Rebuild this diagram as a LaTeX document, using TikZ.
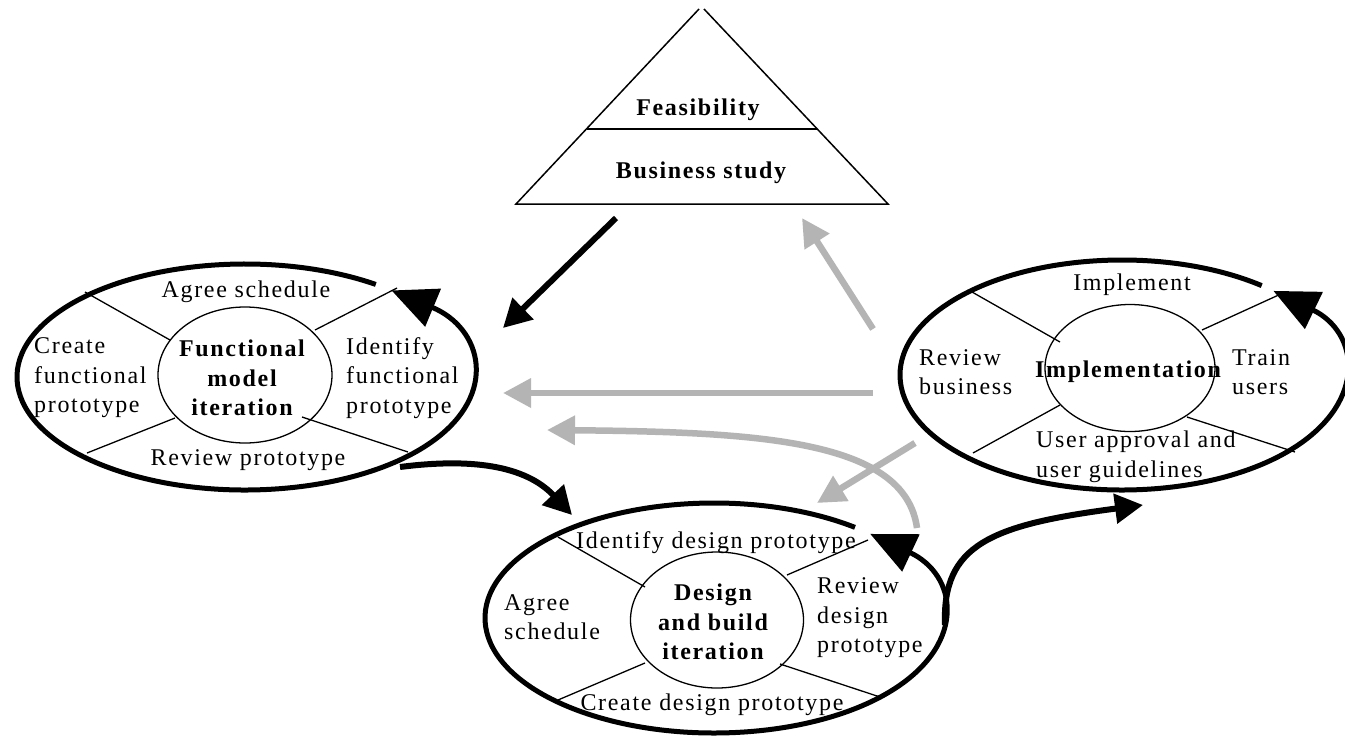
\documentclass[tikz,border=0pt]{standalone}
\usepackage{fontspec}
\setmainfont{Liberation Serif}[LetterSpace=7]
\usetikzlibrary{arrows.meta,shapes.geometric}
\definecolor{flowgray}{RGB}{180,180,180}
\tikzset{
  lbl/.style={inner sep=0pt, font=\fontsize{24}{29.5}\selectfont},
  lblb/.style={lbl, font=\fontsize{24}{29.5}\selectfont\bfseries},
  outerell/.style={line width=5pt, -{Triangle[length=45pt,width=40pt]}},
  innerell/.style={draw, ellipse, line width=1.3pt, inner sep=0pt},
  radial/.style={line width=1.3pt},
  tri/.style={line width=1.5pt},
  blackflow/.style={line width=6pt, -{Triangle[length=28pt,width=29pt]}},
  grayflow/.style={line width=6.5pt, flowgray, -{Triangle[length=28pt,width=28pt]}}
}
\begin{document}
\begin{tikzpicture}[x=1pt,y=-1pt]
\useasboundingbox (0,0) rectangle (1345,737);
\fill[white] (0,0) rectangle (1345,737);

% ---------- triangle ----------
\coordinate (tl) at (516,204);
\coordinate (tr) at (888,204);
\coordinate (tal) at (699,9);
\coordinate (tar) at (704,9);
\coordinate (dl) at (587,129);
\coordinate (dr) at (817,129);
\draw[tri] (tal) -- (tl) -- (tr) -- (tar);
\draw[tri] (dl) -- (dr);
\node[lblb] (feas) at (698,110) {Feasibility};
\node[lblb] (bus) at (701,173) {Business study};

% ---------- left ellipse ----------
\coordinate (lc) at (245,377);
\draw[outerell] (lc) ++(55:228pt and 113pt) arc[start angle=55, end angle=410, x radius=228pt, y radius=113pt];
\node[innerell, minimum width=174pt, minimum height=136pt] (lin) at (245,375) {};
\draw[radial] (85,292) -- (170,340);
\draw[radial] (397,288) -- (315,330);
\draw[radial] (87,453) -- (175,418);
\draw[radial] (408,452) -- (302,417);
\node[lbl] (lagree) at (246,292) {Agree schedule};
\node[lbl, align=left, anchor=west] (lcreate) at (34,378) {Create\\functional\\prototype};
\node[lblb, align=center] (lfunc) at (242,378) {Functional\\model\\iteration};
\node[lbl, align=left, anchor=west] (lident) at (346,378) {Identify\\functional\\prototype};
\node[lbl] (lreview) at (248,460) {Review prototype};

% ---------- right ellipse ----------
\coordinate (rc) at (1122,375);
\draw[outerell] (rc) ++(51:222pt and 115pt) arc[start angle=51, end angle=407, x radius=222pt, y radius=115pt];
\node[innerell, minimum width=170pt, minimum height=127pt] (rin) at (1130,368) {};
\draw[radial] (972,292) -- (1060,342);
\draw[radial] (1283,293) -- (1202,330);
\draw[radial] (973,453) -- (1060,405);
\draw[radial] (1295,452) -- (1187,417);
\node[lbl] (rimpl) at (1132,285) {Implement};
\node[lbl, align=left, anchor=west] (rrev) at (919,372) {Review\\business};
\node[lblb] (rimpn) at (1128,372) {Implementation};
\node[lbl, align=left, anchor=west] (rtrain) at (1232,372) {Train\\users};
\node[lbl, align=left, anchor=west] (ruser) at (1036,457) {User approval and\\user guidelines};

% ---------- bottom ellipse ----------
\coordinate (bc) at (714,618);
\draw[outerell] (bc) ++(52:229pt and 115pt) arc[start angle=52, end angle=407, x radius=229pt, y radius=115pt];
\node[innerell, minimum width=173pt, minimum height=136pt] (bin) at (717,620) {};
\draw[radial] (558,537) -- (645,587);
\draw[radial] (868,540) -- (787,575);
\draw[radial] (558,700) -- (645,663);
\draw[radial] (880,697) -- (780,664);
\node[lbl] (bident) at (716,543) {Identify design prototype};
\node[lbl, align=left, anchor=west] (bagree) at (504,617) {Agree\\schedule};
\node[lblb, align=center] (bdesign) at (713,622) {Design\\and build\\iteration};
\node[lbl, align=left, anchor=west] (brev) at (817,618) {Review\\design\\prototype};
\node[lbl] (bcreate) at (712,705) {Create design prototype};

% ---------- connectors ----------
\coordinate (a1s) at (616,218);
\coordinate (a1e) at (503,328);
\draw[blackflow] (a1s) -- (a1e);

\coordinate (a2s) at (873,329);
\coordinate (a2e) at (802,218);
\draw[grayflow] (a2s) -- (a2e);

\coordinate (a3s) at (873,393);
\coordinate (a3e) at (503,393);
\draw[grayflow] (a3s) -- (a3e);

\coordinate (a4s) at (917,528);
\coordinate (a4e) at (547,430);
\draw[grayflow] (a4s) .. controls (905,440) and (760,432) .. (a4e);

\coordinate (a5s) at (915,443);
\coordinate (a5e) at (817,503);
\draw[grayflow] (a5s) -- (a5e);

\coordinate (a6s) at (400,467);
\coordinate (a6e) at (572,515);
\draw[blackflow] (a6s) .. controls (470,458) and (525,465) .. (a6e);

\coordinate (a7s) at (945,625);
\coordinate (a7e) at (1143,505);
\draw[blackflow] (a7s) .. controls (942,545) and (990,525) .. (a7e);
\end{tikzpicture}
\end{document}
